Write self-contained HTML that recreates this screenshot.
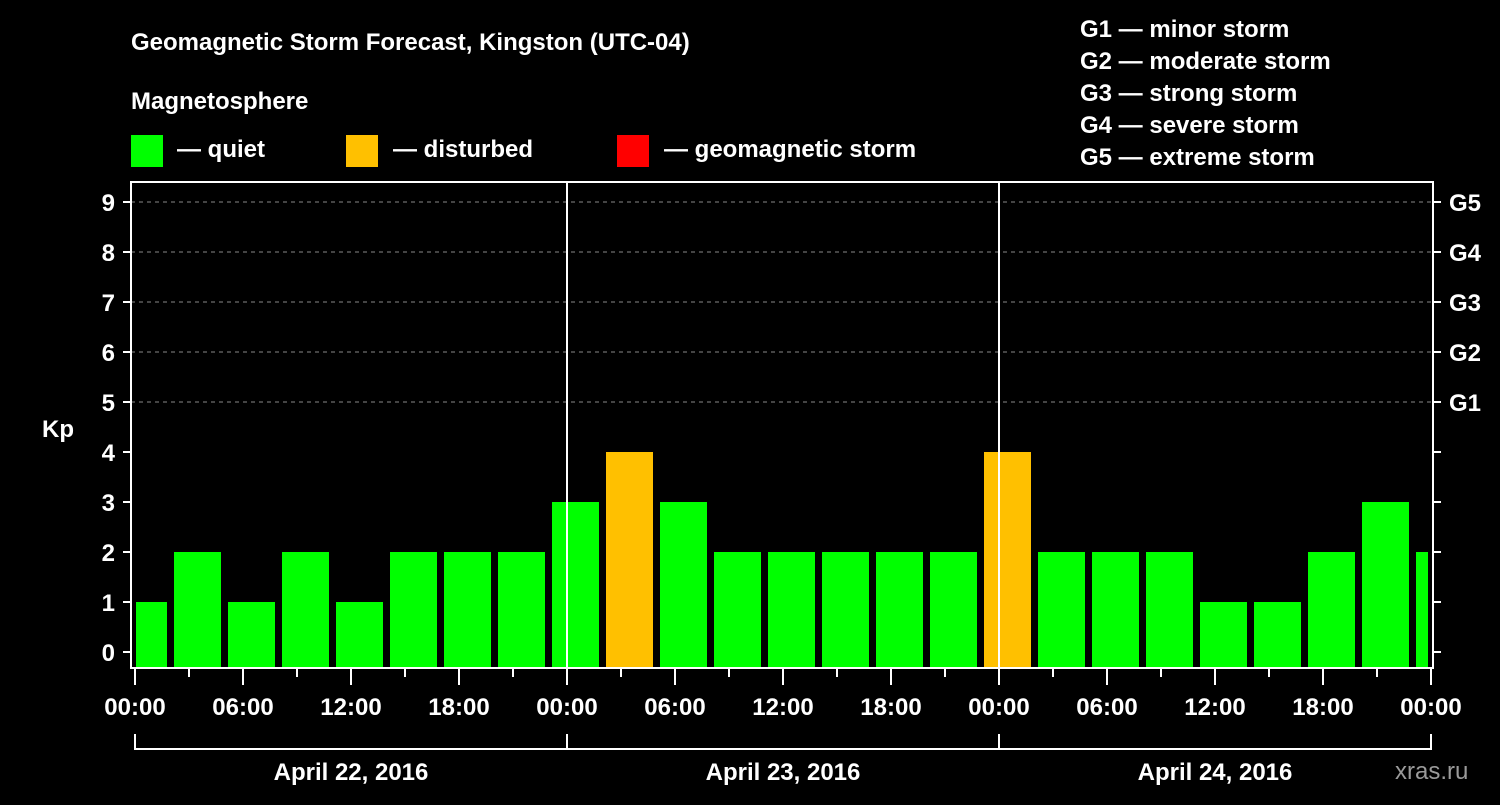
<!DOCTYPE html>
<html><head><meta charset="utf-8"><style>
body{margin:0;background:#000;}
svg text{font-family:"Liberation Sans",Arial,sans-serif;font-weight:bold;fill:#fff;}
</style></head><body>
<svg width="1500" height="800" viewBox="0 0 1500 800">
<rect width="1500" height="800" fill="#000"/>
<text x="131" y="50" font-size="24">Geomagnetic Storm Forecast, Kingston (UTC-04)</text>
<text x="131" y="109" font-size="24">Magnetosphere</text>
<g><rect x="131" y="135" width="32" height="32" fill="#00ff00"/><text x="177" y="157" font-size="24">— quiet</text></g>
<g><rect x="346" y="135" width="32" height="32" fill="#ffc000"/><text x="393" y="157" font-size="24">— disturbed</text></g>
<g><rect x="617" y="135" width="32" height="32" fill="#ff0000"/><text x="664" y="157" font-size="24">— geomagnetic storm</text></g>
<g font-size="24">
<text x="1080" y="37">G1 — minor storm</text>
<text x="1080" y="69">G2 — moderate storm</text>
<text x="1080" y="101">G3 — strong storm</text>
<text x="1080" y="133">G4 — severe storm</text>
<text x="1080" y="165">G5 — extreme storm</text>
</g>
<text x="42" y="437" font-size="24">Kp</text>
<text x="1395" y="779" font-size="24" fill="#999" style="fill:#9a9a9a;font-weight:normal">xras.ru</text>
<g id="plot"></g>
</svg>
<script>
const kpValues=[1,2,1,2,1,2,2,2,3,4,3,2,2,2,2,2,4,2,2,2,1,1,2,3,2];
const yTicks=[0,1,2,3,4,5,6,7,8,9];
const gLabels=["G1","G2","G3","G4","G5"];
const gLevels=[5,6,7,8,9];
const xTickLabels=["00:00","06:00","12:00","18:00","00:00","06:00","12:00","18:00","00:00","06:00","12:00","18:00","00:00"];
const dayLabels=["April 22, 2016","April 23, 2016","April 24, 2016"];
const NS="http://www.w3.org/2000/svg";
const L=131,R=1433,T=182,B=668;
const x=h=>135+h*18;      // hours -> px
const y=v=>652-v*50;
const g=document.getElementById('plot');
function mk(t,a,p){const e=document.createElementNS(NS,t);for(const k in a)e.setAttribute(k,a[k]);(p||g).appendChild(e);return e;}
// grid
gLevels.forEach(v=>{const l=mk('line',{x1:L,x2:R,y1:y(v),y2:y(v),stroke:'#888','stroke-dasharray':'4,4','stroke-width':1});

});
// clip
const cp=mk('clipPath',{id:'cp'});mk('rect',{x:L+5,y:T,width:R-L-10,height:B-T},cp);
const bars=mk('g',{'clip-path':'url(#cp)'});
kpValues.forEach((v,i)=>{const cx=x(i*3)+8.5;
const r=mk('rect',{x:cx-23.5,y:y(v),width:47,height:B-1-y(v),fill:v>=5?'#ff0000':v>=4?'#ffc000':'#00ff00'},bars);

});
// day separators
[1,2].forEach(d=>mk('line',{x1:x(d*24),x2:x(d*24),y1:T,y2:B,stroke:'#fff','stroke-width':2}));
// frame
const f=mk('rect',{x:L,y:T,width:R-L,height:B-T,fill:'none',stroke:'#fff','stroke-width':2});


// y ticks
yTicks.forEach(v=>{mk('line',{x1:L-8,x2:L,y1:y(v),y2:y(v),stroke:'#fff','stroke-width':2});
mk('line',{x1:R,x2:R+8,y1:y(v),y2:y(v),stroke:'#fff','stroke-width':2});
const t=mk('text',{x:115,y:y(v)+9,'font-size':24,'text-anchor':'end'});t.textContent=v;

});
gLabels.forEach((s,i)=>{const t=mk('text',{x:1449,y:y(gLevels[i])+9,'font-size':24});t.textContent=s;

});
// x ticks
for(let h=0;h<=72;h+=3){const major=h%6===0;mk('line',{x1:x(h),x2:x(h),y1:B,y2:B+(major?17:9),stroke:'#fff','stroke-width':2});}
xTickLabels.forEach((s,i)=>{const t=mk('text',{x:x(i*6),y:715,'font-size':24,'text-anchor':'middle'});t.textContent=s;

});
// day brackets
dayLabels.forEach((s,i)=>{const x0=x(i*24),x1=x(i*24+24);
mk('path',{d:`M${x0} 734V749H${x1}V734`,fill:'none',stroke:'#fff','stroke-width':2});
const t=mk('text',{x:(x0+x1)/2,y:780,'font-size':24,'text-anchor':'middle'});t.textContent=s;

});
</script>
</body></html>
